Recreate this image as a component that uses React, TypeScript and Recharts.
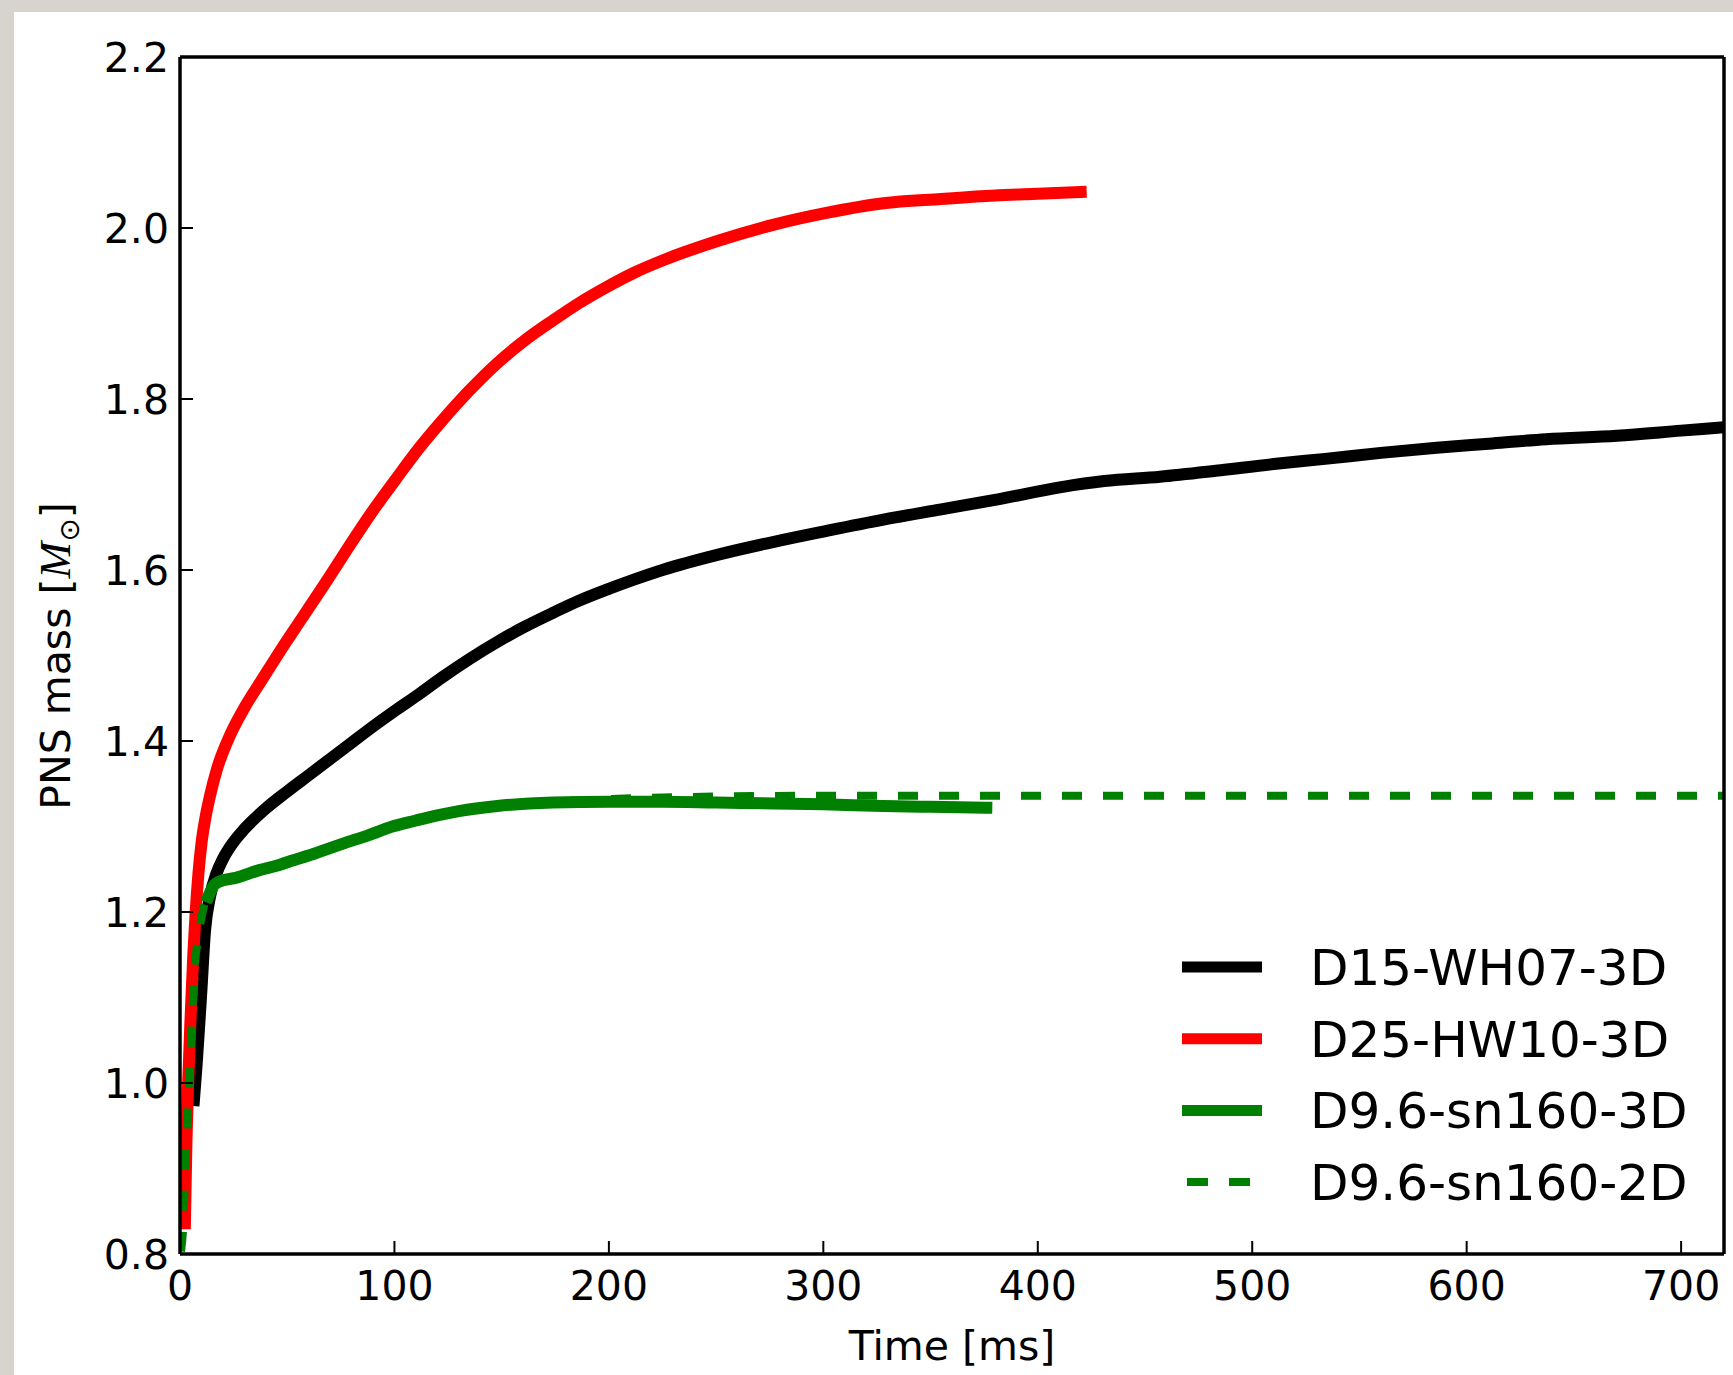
import { LineChart, Line, XAxis, YAxis, Legend } from 'recharts';

const timeTicks = [0, 100, 200, 300, 400, 500, 600, 700];
const massTicks = [0.8, 1.0, 1.2, 1.4, 1.6, 1.8, 2.0, 2.2];

const seriesNames = ['D15-WH07-3D', 'D25-HW10-3D', 'D9.6-sn160-3D', 'D9.6-sn160-2D'];

// D15-WH07-3D (black)
const d15Time = [6.5, 7.8, 9.8, 11.7, 14, 17, 20, 25, 30, 40, 50, 60, 70, 80, 90, 100, 111, 122, 135, 148, 161, 174, 186, 199, 212, 225, 251, 277, 300, 328, 355, 380, 411, 431, 457, 483, 510, 534, 560, 586, 612, 637, 670, 700, 720];
const d15Mass = [0.98, 1.023, 1.101, 1.179, 1.218, 1.245, 1.262, 1.282, 1.297, 1.321, 1.341, 1.36, 1.379, 1.398, 1.417, 1.435, 1.454, 1.474, 1.496, 1.516, 1.534, 1.55, 1.564, 1.577, 1.589, 1.6, 1.618, 1.633, 1.645, 1.659, 1.671, 1.682, 1.697, 1.704, 1.709, 1.716, 1.724, 1.73, 1.737, 1.743, 1.748, 1.753, 1.757, 1.763, 1.767];

// D25-HW10-3D (red)
const d25Time = [2.3, 3.0, 3.8, 5.0, 6.2, 7.3, 8.6, 10.1, 11.7, 14, 17.1, 22.5, 30.3, 38.8, 47.4, 56.7, 67.6, 78.4, 89.3, 100, 111, 122, 135, 148, 161, 174, 186, 199, 212, 225, 251, 277, 302, 328, 355, 380, 400, 420];
const d25Mass = [0.836, 0.93, 1.0, 1.08, 1.15, 1.2, 1.245, 1.282, 1.308, 1.336, 1.366, 1.402, 1.44, 1.474, 1.508, 1.543, 1.584, 1.626, 1.667, 1.704, 1.741, 1.774, 1.81, 1.842, 1.869, 1.892, 1.912, 1.931, 1.948, 1.962, 1.985, 2.004, 2.018, 2.029, 2.034, 2.038, 2.04, 2.042];

// D9.6-sn160-3D (green)
const d96Time3d = [13.2, 16, 20, 26, 37, 45, 52, 60, 68, 76, 88, 99, 110, 120, 130, 148, 174, 200, 225, 250, 277, 300, 328, 350, 376];
const d96Mass3d = [1.218, 1.232, 1.237, 1.24, 1.249, 1.254, 1.26, 1.266, 1.273, 1.28, 1.29, 1.3, 1.307, 1.313, 1.318, 1.324, 1.328, 1.329, 1.329, 1.328, 1.327, 1.326, 1.324, 1.323, 1.322];

// D9.6-sn160-2D (green dashed)
const d96Time2d = [0.5, 1.5, 2.5, 3.5, 4.7, 5.8, 7, 8.2, 9.3, 11, 13.2, 16, 20, 26, 37, 45, 52, 60, 68, 76, 88, 99, 110, 120, 130, 148, 174, 200, 225, 250, 300, 400, 500, 600, 720];
const d96Mass2d = [0.803, 0.832, 0.9, 0.96, 1.023, 1.085, 1.14, 1.165, 1.183, 1.205, 1.218, 1.232, 1.237, 1.24, 1.249, 1.254, 1.26, 1.266, 1.273, 1.28, 1.29, 1.3, 1.307, 1.313, 1.318, 1.324, 1.329, 1.332, 1.334, 1.335, 1.336, 1.336, 1.336, 1.336, 1.336];

const zip = (t: number[], m: number[]) => t.map((v, i) => ({ t: v, m: m[i] }));

const FONT = '"DejaVu Sans", sans-serif';

function LegendBox({ payload }: any) {
  const rowH = 71.7;
  const items = [...(payload || [])].sort(
    (a: any, b: any) => seriesNames.indexOf(a.value) - seriesNames.indexOf(b.value)
  );
  return (
    <svg width={551} height={290} style={{ fontFamily: FONT }}>
      {items.map((e: any, i: number) => {
        const cy = 36 + i * rowH;
        const dashed = !!(e.payload && e.payload.strokeDasharray);
        return (
          <g key={e.value}>
            <line
              x1={dashed ? 5 : 0}
              x2={dashed ? 68 : 80}
              y1={cy}
              y2={cy}
              stroke={e.color}
              strokeWidth={dashed ? 8 : 11}
              strokeDasharray={dashed ? '21 21' : undefined}
            />
            <text x={128} y={cy + 18} fontSize={50} fill="#000">
              {e.value}
            </text>
          </g>
        );
      })}
    </svg>
  );
}

const xTitle = () => (
  <text x={952} y={1360} textAnchor="middle" fontSize={41} fill="#000" style={{ fontFamily: FONT }}>
    Time [ms]
  </text>
);

const yTitle = () => (
  <text transform="translate(70,656) rotate(-90)" textAnchor="middle" fontSize={41} fill="#000" style={{ fontFamily: FONT }}>
    PNS mass [<tspan fontStyle="italic" fontFamily="Liberation Serif" fontSize={44}>M</tspan>
    <tspan fontSize={28} dy={9}>⊙</tspan>
    <tspan dy={-9}>]</tspan>
  </text>
);

export default function App() {
  const tickStyle = { fill: '#000', fontSize: 41 };
  const axisLine = { stroke: '#000', strokeWidth: 3.5 };
  const tickLine = { stroke: '#000', strokeWidth: 2 };
  return (
    <div style={{ position: 'absolute', left: 0, top: 0, width: 1733, height: 1375, background: '#d7d4cd', fontFamily: FONT }}>
      <div style={{ position: 'absolute', left: 14, top: 12, right: 0, bottom: 0, background: '#fff' }} />
      <div style={{ position: 'absolute', left: 0, top: 0 }}>
        <LineChart width={1733} height={1375} margin={{ top: 56, right: 8, bottom: 120, left: 179 }}>
          <XAxis
            xAxisId="b"
            type="number"
            dataKey="t"
            domain={[0, 720]}
            ticks={timeTicks}
            allowDataOverflow
            height={1}
            axisLine={axisLine}
            tickLine={tickLine}
            tickSize={-13}
            tickMargin={30}
            tick={tickStyle}
            interval={0}
            label={{ content: xTitle }}
          />
          <XAxis
            xAxisId="t"
            orientation="top"
            type="number"
            domain={[0, 720]}
            ticks={timeTicks}
            allowDataOverflow
            height={1}
            axisLine={axisLine}
            tickLine={tickLine}
            tickSize={-13}
            tick={false}
            interval={0}
          />
          <YAxis
            yAxisId="l"
            type="number"
            domain={[0.8, 2.2]}
            ticks={massTicks}
            allowDataOverflow
            width={1}
            axisLine={axisLine}
            tickLine={tickLine}
            tickSize={-13}
            tickMargin={24}
            tick={tickStyle}
            tickFormatter={(v: number) => v.toFixed(1)}
            interval={0}
            label={{ content: yTitle }}
          />
          <YAxis
            yAxisId="r"
            orientation="right"
            type="number"
            domain={[0.8, 2.2]}
            ticks={massTicks}
            allowDataOverflow
            width={1}
            axisLine={axisLine}
            tickLine={tickLine}
            tickSize={-13}
            tick={false}
            interval={0}
          />
          <Line xAxisId="b" yAxisId="l" data={zip(d15Time, d15Mass)} dataKey="m" name={seriesNames[0]} type="monotone" stroke="#000000" strokeWidth={12} strokeLinecap="square" strokeLinejoin="round" dot={false} activeDot={false} isAnimationActive={false} />
          <Line xAxisId="b" yAxisId="l" data={zip(d25Time, d25Mass)} dataKey="m" name={seriesNames[1]} type="monotone" stroke="#ff0000" strokeWidth={12} strokeLinecap="square" strokeLinejoin="round" dot={false} activeDot={false} isAnimationActive={false} />
          <Line xAxisId="b" yAxisId="l" data={zip(d96Time3d, d96Mass3d)} dataKey="m" name={seriesNames[2]} type="monotone" stroke="#008000" strokeWidth={12} strokeLinecap="square" strokeLinejoin="round" dot={false} activeDot={false} isAnimationActive={false} />
          <Line xAxisId="b" yAxisId="l" data={zip(d96Time2d, d96Mass2d)} dataKey="m" name={seriesNames[3]} type="monotone" stroke="#008000" strokeWidth={8} strokeDasharray="20 21" strokeLinecap="butt" dot={false} activeDot={false} isAnimationActive={false} />
          <Legend
            layout="vertical"
            align="center"
            verticalAlign="middle"
            content={<LegendBox />}
            wrapperStyle={{ left: 1182, top: 931, width: 551, height: 290 }}
          />
        </LineChart>
      </div>
    </div>
  );
}
